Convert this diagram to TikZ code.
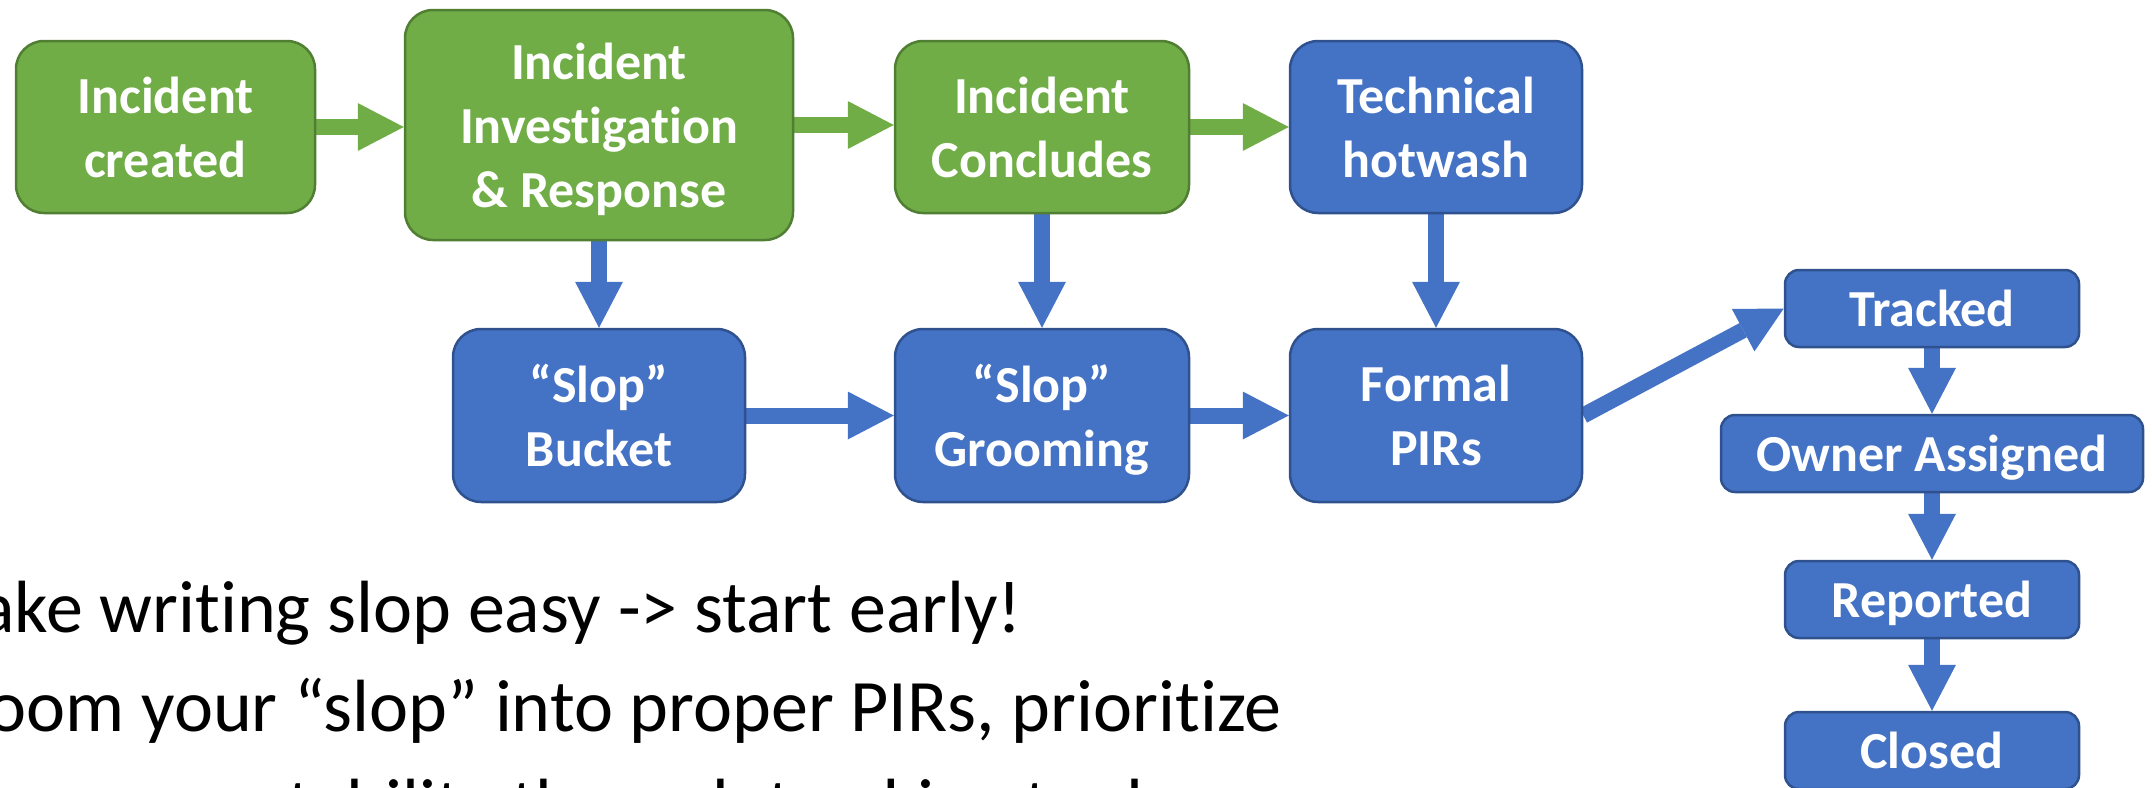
\documentclass[tikz,border=0pt]{standalone}
\usepackage{fontspec}
\setmainfont{Carlito}[Ligatures={TeX,NoCommon}]
\usetikzlibrary{calc,backgrounds}
\definecolor{gfill}{HTML}{70AD47}
\definecolor{gline}{HTML}{507E32}
\definecolor{bfill}{HTML}{4472C4}
\definecolor{bline}{HTML}{2F528F}
\tikzset{
  box/.style={draw, line width=2.5pt, rounded corners=28pt, text=white, align=center, inner sep=0pt,
    text depth=0pt, font=\fontsize{52}{64}\selectfont\bfseries},
  gbox/.style={box, fill=gfill, draw=gline},
  bbox/.style={box, fill=bfill, draw=bline},
  bigbox/.style={minimum width=294pt, minimum height=173pt},
  sbox/.style={bbox, rounded corners=14pt, minimum width=294pt, minimum height=77pt},
  bullettext/.style={anchor=base west, inner sep=0pt, font=\fontsize{74}{88}\selectfont},
}
\newcommand{\blockarrow}[3]{%
  \coordinate (ba-base) at ($(#3)!46pt!(#2)$);
  \draw[#1, line width=16pt] (#2) -- (ba-base);
  \fill[#1] (#3) -- ($(ba-base)!24pt!90:(#3)$) -- ($(ba-base)!24pt!-90:(#3)$) -- cycle;
}
\begin{document}
\begin{tikzpicture}[x=1pt,y=-1pt]
\useasboundingbox (0,0) rectangle (2152,787);
\clip (0,0) rectangle (2152,787);

% top row
\node[gbox, minimum width=299pt, minimum height=172pt] (b1) at (165.5,127) {Incident\\created};
\node[gbox, minimum width=388pt, minimum height=230pt] (b2) at (599,125) {Incident\\Investigation\\\& Response};
\node[gbox, bigbox, minimum height=172pt] (b3) at (1042,127) {Incident\\Concludes};
\node[bbox, bigbox, minimum width=292pt, minimum height=172pt] (b4) at (1436,127) {Technical\\hotwash};

% second row
\node[bbox, bigbox, minimum width=292pt] (b5) at (599,415.5) {“Slop”\\Bucket};
\node[bbox, bigbox] (b6) at (1042,415.5) {“Slop”\\Grooming};
\node[bbox, bigbox, minimum width=292pt] (b7) at (1436,415.5) {Formal\\PIRs};

% right column
\node[sbox] (tr) at (1932,308.5) {Tracked};
\node[sbox, minimum width=422pt] (ow) at (1932,453.5) {Owner Assigned};
\node[sbox] (rp) at (1932,599.5) {Reported};
\node[sbox] (cl) at (1932,750.5) {Closed};

\begin{scope}[on background layer]
\blockarrow{gfill}{b1.east}{b1.east -| b2.west}
\blockarrow{gfill}{b2.east}{b2.east -| b3.west}
\blockarrow{gfill}{b3.east}{b3.east -| b4.west}
\blockarrow{bfill}{b2.south}{b2.south |- b5.north}
\blockarrow{bfill}{b3.south}{b3.south |- b6.north}
\blockarrow{bfill}{b4.south}{b4.south |- b7.north}
\blockarrow{bfill}{b5.east}{b5.east -| b6.west}
\blockarrow{bfill}{b6.east}{b6.east -| b7.west}
\blockarrow{bfill}{b7.east}{tr.west}
\blockarrow{bfill}{tr.south}{ow.north}
\blockarrow{bfill}{ow.south}{rp.north}
\blockarrow{bfill}{rp.south}{cl.north}
\end{scope}

% bullet text
\node[bullettext] (t1) at (-84,632) {Make writing slop easy -> start early!};
\node[bullettext] (t2) at (-84,731) {Groom your “slop” into proper PIRs, prioritize};
\node[bullettext] (t3) at (-84,830) {Own accountability through tracking tools};
\end{tikzpicture}
\end{document}
